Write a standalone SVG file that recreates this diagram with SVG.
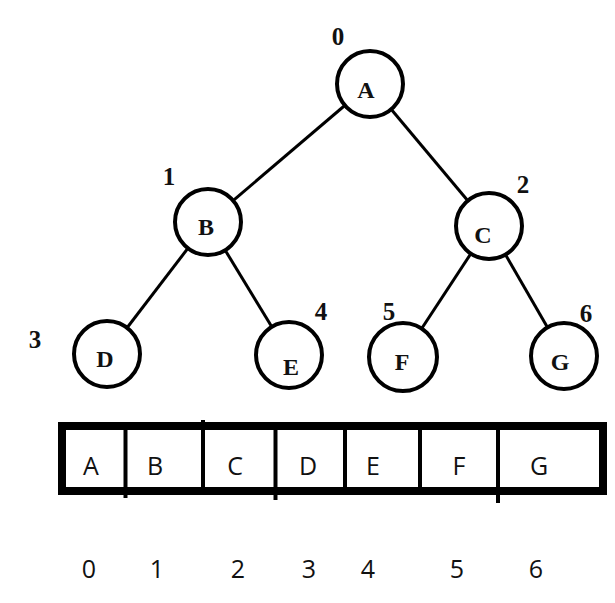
<svg xmlns="http://www.w3.org/2000/svg" width="615" height="603" viewBox="0 0 615 603">
<style>
.node circle{fill:#fff;stroke:#000;stroke-width:4}
.nt{font-family:"Liberation Serif",serif;font-weight:bold;font-size:24px;text-anchor:middle;fill:#111}
.idx{font-family:"Liberation Serif",serif;font-weight:bold;font-size:25px;text-anchor:middle;fill:#111}
.edges line{stroke:#000;stroke-width:3}
.cell{font-family:"Open Sans","Noto Sans",sans-serif;font-size:25px;text-anchor:middle;fill:#111}
.div{stroke:#000;stroke-width:4}
</style>
<rect width="615" height="603" fill="#fff"/>
<g id="connectors" class="edges">
<line x1="370" y1="84" x2="208" y2="222"/>
<line x1="370" y1="84" x2="489" y2="226"/>
<line x1="208" y1="222" x2="107" y2="354"/>
<line x1="208" y1="222" x2="289" y2="355"/>
<line x1="489" y1="226" x2="403" y2="357"/>
<line x1="489" y1="226" x2="564" y2="356"/>
</g>
<g id="node-A" class="node"><circle cx="370" cy="84" r="33"/><text class="nt" x="366" y="98">A</text><text class="idx" x="338" y="45">0</text></g>
<g id="node-B" class="node"><circle cx="208" cy="222" r="33"/><text class="nt" x="206" y="235">B</text><text class="idx" x="169" y="185">1</text></g>
<g id="node-C" class="node"><circle cx="489" cy="226" r="33"/><text class="nt" x="483" y="243">C</text><text class="idx" x="523" y="193">2</text></g>
<g id="node-D" class="node"><circle cx="107" cy="354" r="33"/><text class="nt" x="105" y="367">D</text><text class="idx" x="35" y="348">3</text></g>
<g id="node-E" class="node"><circle cx="289" cy="355" r="33"/><text class="nt" x="291" y="375">E</text><text class="idx" x="321" y="320">4</text></g>
<g id="node-F" class="node"><circle cx="403" cy="357" r="34"/><text class="nt" x="402" y="370">F</text><text class="idx" x="389" y="320">5</text></g>
<g id="node-G" class="node"><circle cx="564" cy="356" r="33"/><text class="nt" x="560" y="370">G</text><text class="idx" x="586" y="322">6</text></g>
<g id="array">
<rect x="62" y="426" width="541" height="65" fill="#fff" stroke="#000" stroke-width="8"/>
<line class="div" x1="125.5" y1="430" x2="125.5" y2="498"/>
<line class="div" x1="203" y1="420" x2="203" y2="487"/>
<line class="div" x1="275.5" y1="430" x2="275.5" y2="500"/>
<line class="div" x1="345" y1="430" x2="345" y2="487"/>
<line class="div" x1="420" y1="430" x2="420" y2="487"/>
<line class="div" x1="498" y1="430" x2="498" y2="503"/>
<text class="cell" x="91" y="475">A</text>
<text class="cell" x="155" y="475">B</text>
<text class="cell" x="235" y="475">C</text>
<text class="cell" x="308" y="475">D</text>
<text class="cell" x="373" y="475">E</text>
<text class="cell" x="459" y="475">F</text>
<text class="cell" x="539" y="475">G</text>
</g>
<g id="indices">
<text class="cell" x="89" y="578">0</text>
<text class="cell" x="157" y="578">1</text>
<text class="cell" x="238" y="578">2</text>
<text class="cell" x="309" y="578">3</text>
<text class="cell" x="368" y="578">4</text>
<text class="cell" x="457" y="578">5</text>
<text class="cell" x="536" y="578">6</text>
</g>
</svg>
